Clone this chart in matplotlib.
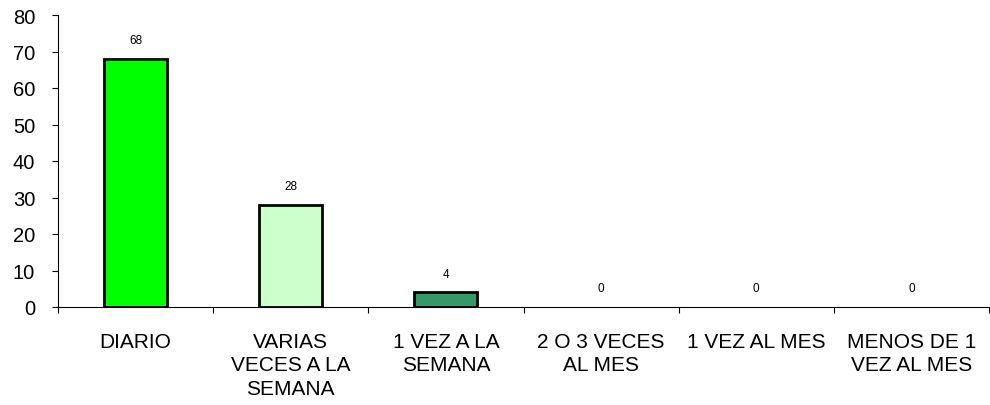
import matplotlib
matplotlib.use("Agg")
import matplotlib.pyplot as plt

categories = ["DIARIO", "VARIAS\nVECES A LA\nSEMANA", "1 VEZ A LA\nSEMANA",
              "2 O 3 VECES\nAL MES", "1 VEZ AL MES", "MENOS DE 1\nVEZ AL MES"]
values = [68, 28, 4, 0, 0, 0]
colors = ["#00FF00", "#CCFFCC", "#339966", "#99CC00", "#99CC00", "#99CC00"]
yticks = [0, 10, 20, 30, 40, 50, 60, 70, 80]

plt.rcParams['font.family'] = ['Liberation Sans', 'DejaVu Sans']

fig = plt.figure(figsize=(9.9, 4.06), dpi=100)
ax = fig.add_axes([58/990, 1 - 308/406, 1 - 58/990 - 0.001, (308 - 16)/406])

x = list(range(len(categories)))
lws = [2.0 if v > 0 else 0 for v in values]
ax.bar(x, values, width=0.405, color=colors, edgecolor="black", linewidth=lws, zorder=3)

for xi, v in zip(x, values):
    ax.annotate(str(v), (xi, v), xytext=(0, 13.5), textcoords="offset points",
                ha="center", va="center", fontsize=8.5)

ax.set_xlim(-0.5, len(categories) - 0.5)
ax.set_ylim(0, 80)
ax.set_yticks(yticks)
ax.set_yticklabels([str(t) for t in yticks], fontsize=14.5)

ax.set_xticks([i - 0.5 for i in range(len(categories) + 1)])
ax.set_xticklabels([])
ax.set_xticks(x, minor=True)
ax.set_xticklabels(categories, minor=True, fontsize=15, linespacing=1.3, va="top")
ax.tick_params(axis="x", which="minor", length=0, pad=18)
ax.tick_params(axis="x", which="major", length=4.5, direction="out", width=0.8)
ax.tick_params(axis="y", length=4.5, direction="out", width=0.8, pad=12)

for s in ["top", "right"]:
    ax.spines[s].set_visible(False)
ax.spines["left"].set_linewidth(0.8)
ax.spines["bottom"].set_linewidth(0.8)

fig.savefig("out.png", dpi=100)
